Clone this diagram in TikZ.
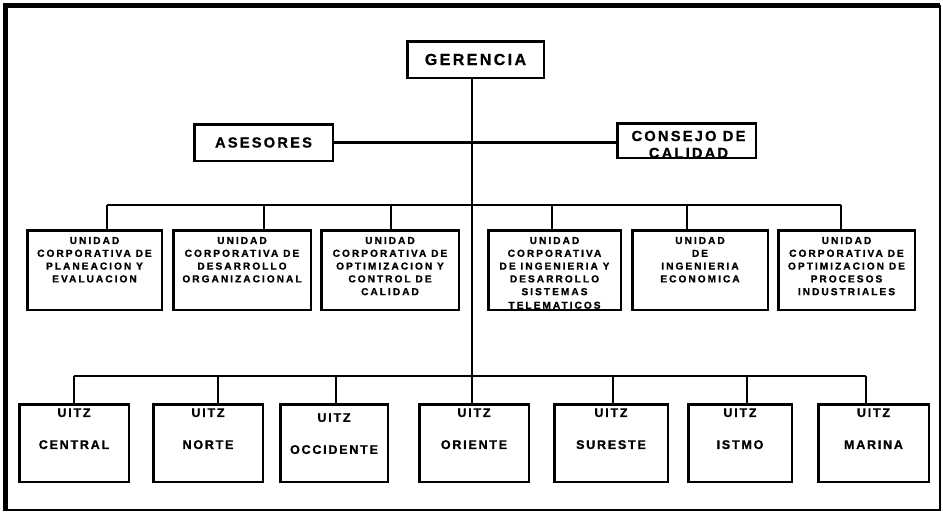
\documentclass[tikz,border=0pt]{standalone}
\usepackage{fontspec}
\setmainfont{Liberation Sans}
\newfontfamily\headfont{Liberation Sans}[LetterSpace=15, FakeBold=0.8]
\newfontfamily\unitfont{Liberation Sans}[LetterSpace=20, FakeBold=1.2]
\newfontfamily\zonefont{Liberation Sans}[LetterSpace=14, FakeBold=1]
\newlength\pxu
\setlength\pxu{0.75pt}
\tikzset{
  orgbox/.style={draw, line width=2.5\pxu, inner sep=0pt},
  headtext/.style={font=\headfont\bfseries\fontsize{12}{12.75}\selectfont, align=center, inner sep=0pt},
  sidetext/.style={font=\headfont\bfseries\fontsize{11}{12.75}\selectfont, align=center, inner sep=0pt},
  unittext/.style={font=\unitfont\bfseries\fontsize{7.6}{9.6}\selectfont, align=center, inner sep=0pt, anchor=north},
  zonetext/.style={font=\zonefont\bfseries\fontsize{9.4}{24}\selectfont, align=center, inner sep=0pt, anchor=north},
  link/.style={line width=2\pxu},
  spine/.style={line width=2.2\pxu},
  unitbox/.style={orgbox, minimum height=79.5\pxu},
  zonebox/.style={orgbox, minimum height=77.5\pxu},
}
\begin{document}
\begin{tikzpicture}[x=0.75pt, y=-0.75pt]
\useasboundingbox (0,0) rectangle (943,512);

% outer frame: heavy top and left rules, light right and bottom rules
\draw[line width=5\pxu] (3,5.5) -- (940,5.5);
\draw[line width=5\pxu] (5,3) -- (5,511);
\draw[line width=2\pxu] (939.5,5) -- (939.5,510.5);
\draw[line width=2\pxu] (5,510) -- (940,510);

% top level
\node[orgbox, headtext, minimum width=136.5\pxu, minimum height=36.5\pxu] (ger) at (475.5,59.5) {GERENCIA};
\node[orgbox, headtext, font=\headfont\bfseries\fontsize{11}{12}\selectfont, minimum width=138.5\pxu, minimum height=36.5\pxu] (ase) at (263.5,142.5) {ASESORES};
\node[orgbox, minimum width=138.5\pxu, minimum height=34.5\pxu] (con) at (686.5,140.5) {};
\begin{scope}
  \clip ([shift={(1pt,1pt)}]con.south west) rectangle ([shift={(-1pt,-1pt)}]con.north east);
  \node[sidetext] (cont) at (688.5,144.5) {CONSEJO DE\\CALIDAD};
\end{scope}

% corporate units
\node[unitbox, minimum width=134.5\pxu] (u1) at (94.5,270) {};
\node[unitbox, minimum width=137.5\pxu] (u2) at (242,270) {};
\node[unitbox, minimum width=137.5\pxu] (u3) at (390,270) {};
\node[unitbox, minimum width=132.5\pxu] (u4) at (554.5,270) {};
\node[unitbox, minimum width=135.5\pxu] (u5) at (700,270) {};
\node[unitbox, minimum width=136.5\pxu] (u6) at (846.5,270) {};

\node[unittext] (t1) at ([yshift=-5.8pt]u1.north) {UNIDAD\\CORPORATIVA DE\\PLANEACION Y\\EVALUACION};
\node[unittext] (t2) at ([yshift=-5.8pt]u2.north) {UNIDAD\\CORPORATIVA DE\\DESARROLLO\\ORGANIZACIONAL};
\node[unittext] (t3) at ([yshift=-5.8pt]u3.north) {UNIDAD\\CORPORATIVA DE\\OPTIMIZACION Y\\CONTROL DE\\CALIDAD};
\begin{scope}
  \clip ([shift={(1pt,1pt)}]u4.south west) rectangle ([shift={(-1pt,-1pt)}]u4.north east);
  \node[unittext] (t4) at ([yshift=-5.8pt]u4.north) {UNIDAD\\CORPORATIVA\\DE INGENIERIA Y\\DESARROLLO\\SISTEMAS\\[0.6pt]TELEMATICOS};
\end{scope}
\node[unittext] (t5) at ([yshift=-5.8pt]u5.north) {UNIDAD\\DE\\INGENIERIA\\ECONOMICA};
\node[unittext] (t6) at ([yshift=-5.8pt]u6.north) {UNIDAD\\CORPORATIVA DE\\OPTIMIZACION DE\\PROCESOS\\INDUSTRIALES};

% regional units
\node[zonebox, minimum width=109.5\pxu] (b1) at (74,443) {};
\node[zonebox, minimum width=109.5\pxu] (b2) at (208,443) {};
\node[zonebox, minimum width=107.5\pxu] (b3) at (334,443) {};
\node[zonebox, minimum width=109.5\pxu] (b4) at (474,443) {};
\node[zonebox, minimum width=113.5\pxu] (b5) at (611,443) {};
\node[zonebox, minimum width=103.5\pxu] (b6) at (740,443) {};
\node[zonebox, minimum width=110.5\pxu] (b7) at (873.5,443) {};

\node[zonetext] (z1t) at ([yshift=-3.8pt]b1.north) {UITZ\\CENTRAL};
\node[zonetext] (z2t) at ([yshift=-3.8pt]b2.north) {UITZ\\NORTE};
\node[zonetext] (z3t) at ([yshift=-7.5pt]b3.north) {UITZ\\OCCIDENTE};
\node[zonetext] (z4t) at ([yshift=-3.8pt]b4.north) {UITZ\\ORIENTE};
\node[zonetext] (z5t) at ([yshift=-3.8pt]b5.north) {UITZ\\SURESTE};
\node[zonetext] (z6t) at ([yshift=-3.8pt]b6.north) {UITZ\\ISTMO};
\node[zonetext] (z7t) at ([yshift=-3.8pt]b7.north) {UITZ\\MARINA};

% connectors
\coordinate (bbus) at (472,376);
\draw[spine] (ger.south -| bbus) -- (bbus);
\draw[link, line width=2.6\pxu] (ase.east) -- (ase.east -| con.west);

\coordinate (m1) at (107,205);
\coordinate (m2) at (264,205);
\coordinate (m3) at (391,205);
\coordinate (m4) at (552,205);
\coordinate (m5) at (687,205);
\coordinate (m6) at (841,205);
\draw[link] (m1) -- (m6);
\foreach \i in {1,...,6} \draw[link] (m\i) -- (m\i |- u\i.north);

\coordinate (z1) at (74,376);
\coordinate (z2) at (218,376);
\coordinate (z3) at (336,376);
\coordinate (z4) at (472,376);
\coordinate (z5) at (613,376);
\coordinate (z6) at (747,376);
\coordinate (z7) at (866,376);
\draw[link] (z1) -- (z7);
\foreach \i in {1,...,7} \draw[link] (z\i) -- (z\i |- b\i.north);
\end{tikzpicture}
\end{document}
